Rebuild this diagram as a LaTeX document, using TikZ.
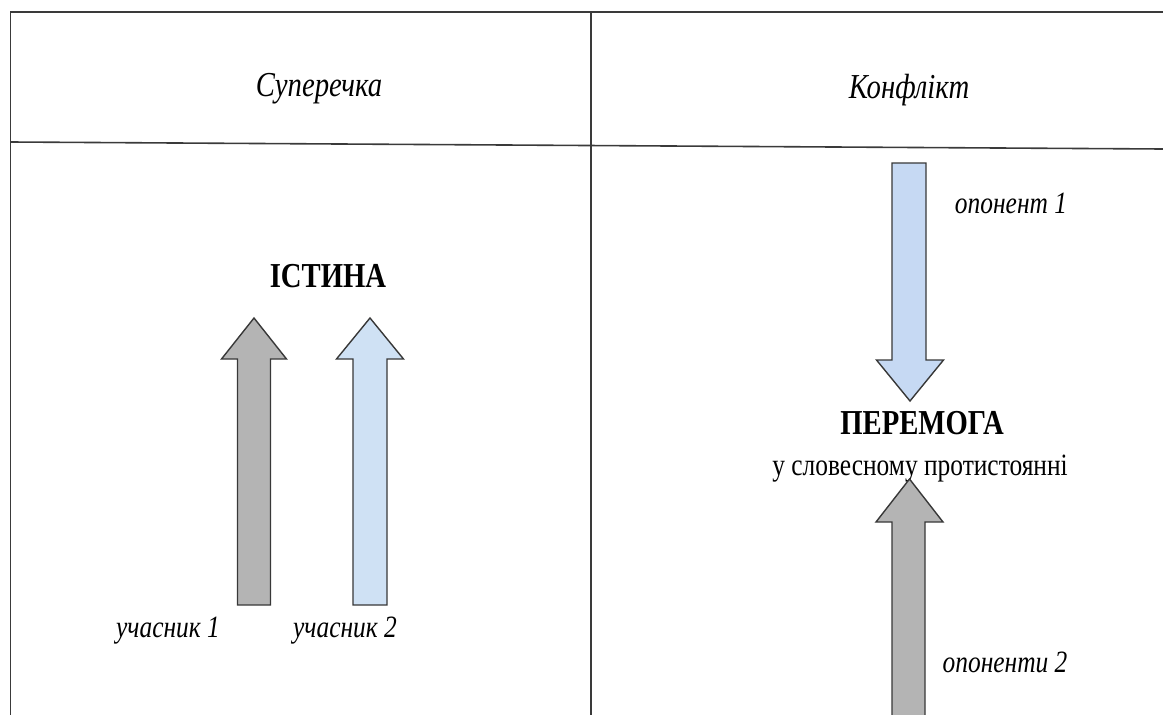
\documentclass[tikz,border=0pt]{standalone}
\usepackage{fontspec}
\setmainfont[FakeStretch=0.82]{Liberation Serif}
\definecolor{rulecol}{HTML}{3A3A3A}
\definecolor{graycol}{HTML}{B4B4B4}
\definecolor{bluecol}{HTML}{CFE1F4}
\definecolor{bluecolb}{HTML}{C6D9F3}
\definecolor{edgecol}{HTML}{383838}
\tikzset{
  rule/.style={draw=rulecol, line width=1.6pt},
  arrowshape/.style={draw=edgecol, line width=1.4pt, line join=miter},
  titletext/.style={font=\fontsize{35}{42}\selectfont\itshape, anchor=base, inner sep=0pt},
  boldtext/.style={font=\fontsize{35}{42}\selectfont\bfseries, anchor=base, inner sep=0pt},
  labeltext/.style={font=\fontsize{31}{37}\selectfont\itshape, anchor=base, inner sep=0pt},
  plaintext/.style={font=\fontsize{31}{37}\selectfont, anchor=base, inner sep=0pt},
}
\begin{document}
\begin{tikzpicture}[x=1pt,y=-1pt]
\useasboundingbox (0,0) rectangle (1163,715);
% table rules
\coordinate (tl) at (10.5,12);
\coordinate (tr) at (1163,12);
\coordinate (bl) at (10.5,715);
\coordinate (tm) at (591,12);
\coordinate (bm) at (591,715);
\coordinate (hl) at (10.5,142);
\coordinate (hr) at (1163,149);
\draw[rule] (tr) -- (tl) -- (bl);
\draw[rule] (tm) -- (bm);
\draw[rule] (hl) -- (hr);
% headers
\node[titletext] (h1) at (319,96) {Суперечка};
\node[titletext] (h2) at (909,98) {Конфлікт};
% left column
\node[boldtext] (truth) at (328,287) {ІСТИНА};
\draw[arrowshape, fill=graycol] (254,318) -- (286.5,359) -- (270.5,359) -- (270.5,605) -- (237.5,605) -- (237.5,359) -- (221.5,359) -- cycle;
\draw[arrowshape, fill=bluecol] (370,318) -- (403.5,359) -- (387,359) -- (387,605) -- (353,605) -- (353,359) -- (336.5,359) -- cycle;
\node[labeltext] (p1) at (168,637) {учасник 1};
\node[labeltext] (p2) at (345,637) {учасник 2};
% right column
\draw[arrowshape, fill=bluecolb] (892,163) -- (926,163) -- (926,360) -- (943.5,360) -- (910,401) -- (876.5,360) -- (892,360) -- cycle;
\node[labeltext] (o1) at (1011,213) {опонент 1};
\node[boldtext] (win) at (922,434) {ПЕРЕМОГА};
\node[plaintext] (win2) at (920,475) {у словесному протистоянні};
\fill[graycol] (909.5,479) -- (943,522) -- (925,522) -- (925,716) -- (892,716) -- (892,522) -- (876,522) -- cycle;
\draw[arrowshape] (892,716) -- (892,522) -- (876,522) -- (909.5,479) -- (943,522) -- (925,522) -- (925,716);
\node[labeltext] (o2) at (1005,672) {опоненти 2};
\end{tikzpicture}
\end{document}
